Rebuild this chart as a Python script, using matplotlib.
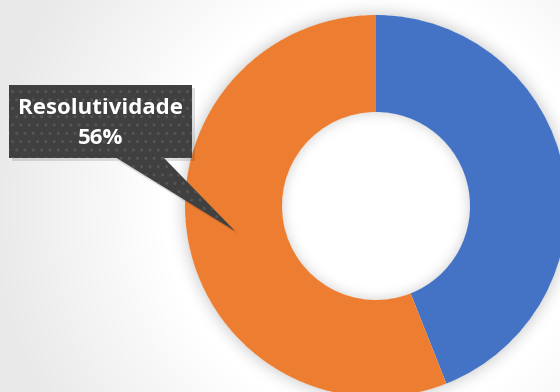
import numpy as np
import matplotlib
matplotlib.use("Agg")
import matplotlib.pyplot as plt
from matplotlib.patches import Rectangle, Polygon

# dados
labels = ["Outros", "Resolutividade"]
values = [44, 56]
colors = ["#4472C4", "#ED7D31"]
callout_label = "Resolutividade"
callout_pct = "56%"

W, H = 560, 392
fig = plt.figure(figsize=(W / 100, H / 100), dpi=100)
ax = fig.add_axes([0, 0, 1, 1])
ax.set_xlim(0, W)
ax.set_ylim(0, H)
ax.axis("off")

cx, cy = 376, H - 206
r_out, r_in = 191, 94

# fundo com gradiente radial + sombras
yy, xx = np.mgrid[0:H, 0:W] + 0.5
rr = np.hypot(xx - cx, yy - cy)
bg = 1.0 - 0.085 * np.clip((rr - 215) / 170, 0, 1)
# sombra externa
outer = np.clip(1 - (rr - r_out) / 18, 0, 1) * (rr > r_out)
bg -= 0.12 * outer ** 2
# sombra interna do furo
inner = np.clip(1 - (r_in - rr) / 14, 0, 1) * (rr < r_in)
bg -= 0.10 * inner ** 2
ax.imshow(np.dstack([bg] * 3), extent=(0, W, 0, H), origin="lower",
          zorder=0, interpolation="bilinear")

ax.pie(values, colors=colors, startangle=90, counterclock=False,
       center=(cx, cy), radius=r_out, frame=True,
       wedgeprops=dict(width=r_out - r_in, linewidth=0))
ax.set_xlim(0, W)
ax.set_ylim(0, H)
ax.set_aspect("equal")
ax.axis("off")

# balão de texto
box_x0, box_y0, box_x1, box_y1 = 9, H - 158, 192, H - 85
tip = (235, H - 231)
shadow = dict(facecolor="black", alpha=0.12, linewidth=0, zorder=4)
ax.add_patch(Polygon([(115 + 3, box_y0 - 3), (163 + 3, box_y0 - 3),
                      (tip[0] + 3, tip[1] - 3)], **shadow))
ax.add_patch(Rectangle((box_x0 + 3, box_y0 - 3), box_x1 - box_x0,
                       box_y1 - box_y0, **shadow))
ax.add_patch(Polygon([(115, box_y0 + 1), (163, box_y0 + 1), tip],
                     facecolor="#404040", edgecolor="#555555", hatch="..",
                     linewidth=0, zorder=5))
ax.add_patch(Rectangle((box_x0, box_y0), box_x1 - box_x0, box_y1 - box_y0,
                       facecolor="#404040", edgecolor="#555555", hatch="..",
                       linewidth=0, zorder=5))
ax.text((box_x0 + box_x1) / 2, (box_y0 + box_y1) / 2 - 2,
        callout_label + "\n" + callout_pct, color="white",
        fontsize=16, fontweight="bold", family="Open Sans",
        ha="center", va="center", linespacing=1.6, zorder=6)

fig.savefig("out.png", dpi=100)
